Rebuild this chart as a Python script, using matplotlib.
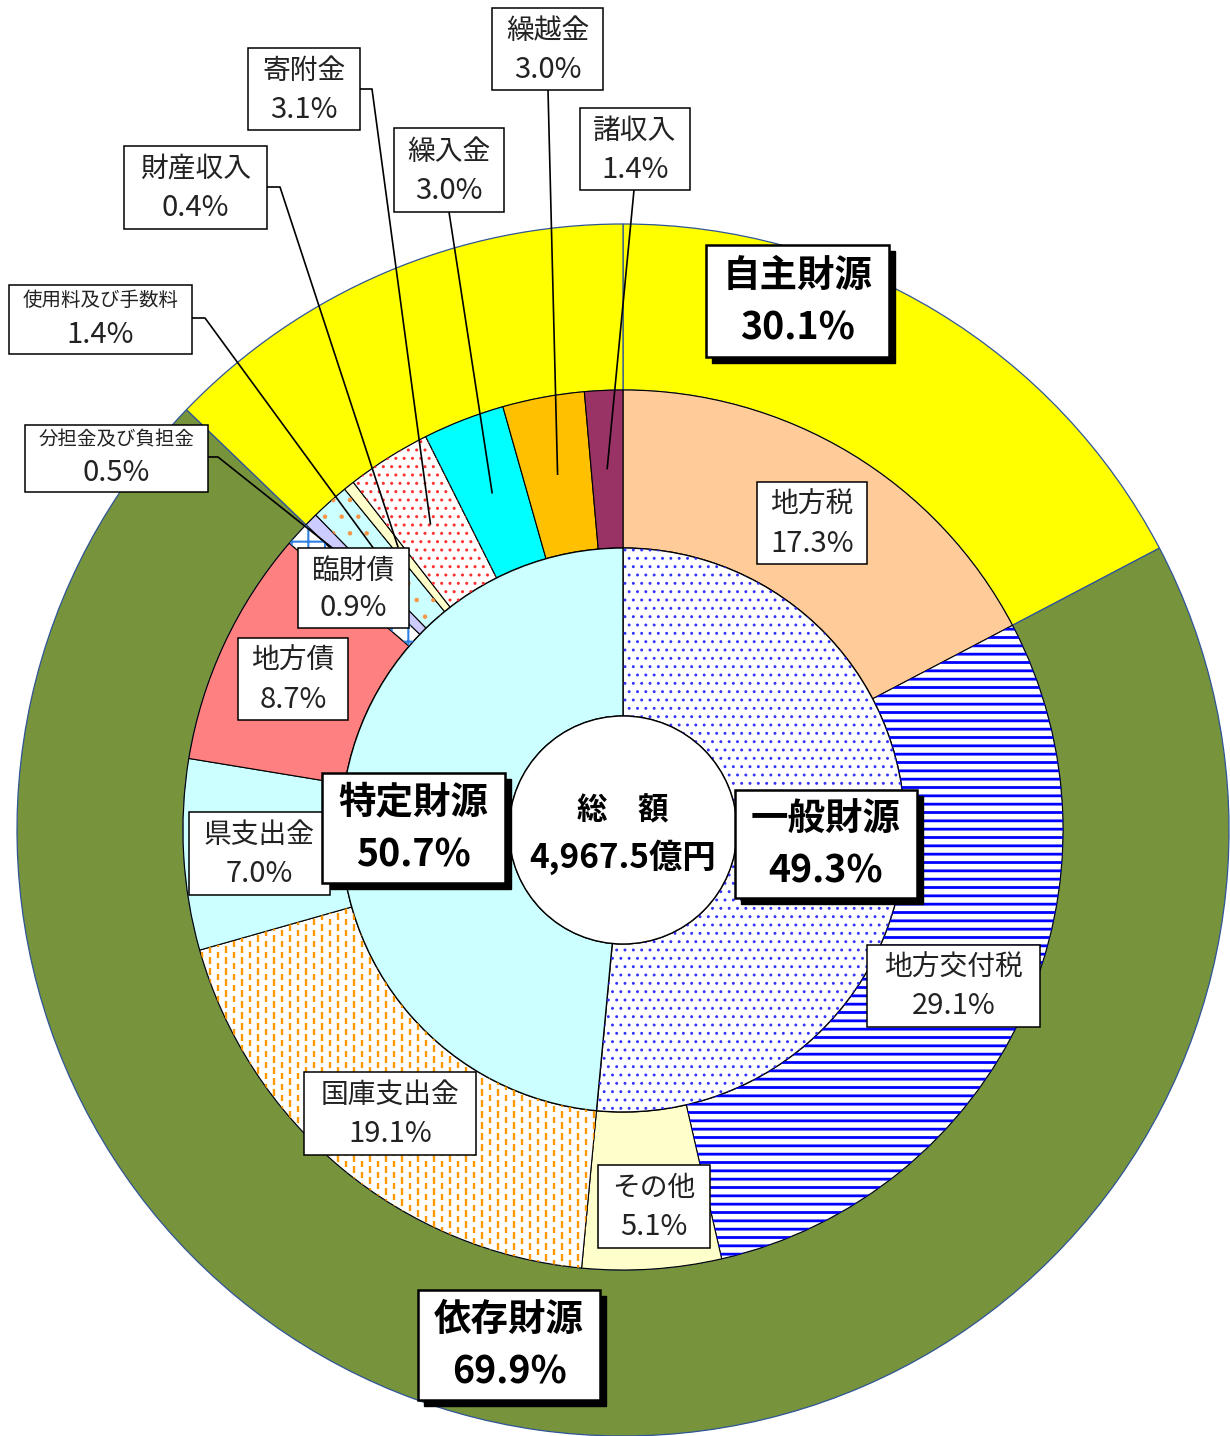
import numpy as np
import matplotlib.pyplot as plt
import matplotlib.patches as mpatches
from matplotlib.collections import LineCollection

plt.rcParams['font.family'] = ['Noto Sans CJK JP', 'DejaVu Sans']

# 歳入の内訳（上から時計回り）
items = ['地方税', '地方交付税', 'その他', '国庫支出金', '県支出金', '地方債', '臨財債',
         '分担金及び負担金', '使用料及び手数料', '財産収入', '寄附金', '繰入金', '繰越金', '諸収入']
shares = [17.3, 29.1, 5.1, 19.1, 7.0, 8.7, 0.9, 0.5, 1.4, 0.4, 3.1, 3.0, 3.0, 1.4]
n_general = 3  # 一般財源の項目（地方税〜その他）

outer_names = ['自主財源', '依存財源']
outer_shares = [30.1, 69.9]
inner_names = ['一般財源', '特定財源']
inner_shares = [49.3, 50.7]
total_label = '4,967.5億円'

# 色・模様
mid_colors = ['#FFCC99', 'white', '#FFFFCC', 'white', '#CCFFFF', '#FF8080', 'white',
              '#CCCCFF', '#CCFFFF', '#FFFFCC', 'white', '#00FFFF', '#FFC000', '#993366']
mid_hatch = {'地方交付税': ('--', '#0000FF', 2.0), '臨財債': ('+', '#2E7FE0', 1.5),
             '使用料及び手数料': ('.', '#F79646', 0.8), '寄附金': ('..', '#FF3030', 1.0)}

W, H = 1230, 1436
cx, cy = 623, 830
R_OUT, R_MID, R_IN, R_HOLE = 606, 440, 282, 114

fig = plt.figure(figsize=(W / 100, H / 100), dpi=100)
ax = fig.add_axes([0, 0, 1, 1])


def ring(sizes, r, w, colors, ec, lw):
    wedges, _ = ax.pie(sizes, radius=r, center=(cx, cy), startangle=270, counterclock=True,
                       colors=colors, wedgeprops=dict(width=w, edgecolor=ec, linewidth=lw))
    return wedges


def add_hatch(w, hatch, color, lw):
    with plt.rc_context({'hatch.linewidth': lw}):
        p = mpatches.Wedge(w.center, w.r, w.theta1, w.theta2, width=w.width,
                           facecolor='none', edgecolor=color, linewidth=0, hatch=hatch, zorder=1.5)
    ax.add_patch(p)


# 外側：自主財源（地方税の分と残り）、依存財源
own_after = shares[0]
outer_draw = [own_after, outer_shares[1], outer_shares[0] - own_after]
ring(outer_draw, R_OUT, R_OUT - R_MID, ['#FFFF00', '#77933C', '#FFFF00'], '#2F5597', 0.9)

# 中間：内訳
mid_w = ring(shares, R_MID, R_MID - R_IN, mid_colors, 'black', 0.8)
for name, (h, c, lw) in mid_hatch.items():
    add_hatch(mid_w[items.index(name)], h, c, lw)

# 国庫支出金の破線模様
segs = []
for k, x in enumerate(np.arange(2, W, 8.0)):
    off = 5.5 if k % 2 else 0
    for y in np.arange(-off, H, 11.0):
        segs.append([(x, y), (x, y + 6.5)])
lc = LineCollection(segs, colors='#FF9900', linewidths=1.7, zorder=1.6)
ax.add_collection(lc)
lc.set_clip_path(mid_w[items.index('国庫支出金')])

# 内側：一般財源・特定財源
inner_draw = [sum(shares[:n_general]), sum(shares[n_general:])]
in_w = ring(inner_draw, R_IN, R_IN - R_HOLE, ['white', '#CCFFFF'], 'black', 1.0)
add_hatch(in_w[0], '..', '#3333FF', 0.9)

ax.add_patch(mpatches.Circle((cx, cy), R_HOLE, facecolor='white', edgecolor='black',
                             linewidth=1.0, zorder=2))

# ラベル枠 (x0, y0, x1, y1)
boxes = {
    '地方税': (757, 482, 867, 564), '地方交付税': (867, 945, 1040, 1027),
    'その他': (598, 1165, 710, 1248), '国庫支出金': (304, 1072, 476, 1155),
    '県支出金': (189, 812, 330, 895), '地方債': (238, 638, 348, 720),
    '臨財債': (298, 548, 409, 628), '分担金及び負担金': (25, 425, 208, 492),
    '使用料及び手数料': (9, 285, 192, 354), '財産収入': (124, 146, 267, 229),
    '寄附金': (248, 48, 360, 130), '繰入金': (394, 128, 504, 212),
    '繰越金': (492, 8, 603, 90), '諸収入': (580, 108, 690, 190),
}
leaders = {
    '使用料及び手数料': [(192, 318), (205, 318)], '分担金及び負担金': [(208, 457), (218, 457)],
    '財産収入': [(267, 187), (280, 187)], '寄附金': [(360, 89), (372, 89)],
    '繰入金': [(449, 212)], '繰越金': [(548, 90)], '諸収入': [(634, 190)],
}

cum = np.cumsum(shares) - np.array(shares) / 2
total = sum(shares)
for name, pts in leaders.items():
    a = np.deg2rad(360 * cum[items.index(name)] / total)
    end = (cx + 361 * np.sin(a), cy - 361 * np.cos(a))
    xs, ys = zip(*(pts + [end]))
    ax.plot(xs, ys, color='black', linewidth=1.2, zorder=3, solid_capstyle='butt')

for name, v in zip(items, shares):
    x0, y0, x1, y1 = boxes[name]
    ax.add_patch(mpatches.Rectangle((x0, y0), x1 - x0, y1 - y0, facecolor='white',
                                    edgecolor='black', linewidth=1.1, zorder=4))
    xm, hh = (x0 + x1) / 2, y1 - y0
    small = len(name) > 6
    ax.text(xm, y0 + hh * (0.22 if small else 0.28), name, ha='center', va='center',
            fontsize=14 if small else 20, color='#222222', zorder=5)
    ax.text(xm, y0 + hh * (0.72 if small else 0.75), f'{v:.1f}%', ha='center', va='center',
            fontsize=21, color='#222222', zorder=5)

# 大きいラベル（影付き）
big_boxes = {'自主財源': (706, 245, 889, 357), '依存財源': (418, 1290, 600, 1400),
             '一般財源': (735, 790, 917, 898), '特定財源': (322, 773, 505, 883)}
big_vals = dict(zip(outer_names + inner_names, outer_shares + inner_shares))
for name, (x0, y0, x1, y1) in big_boxes.items():
    ax.add_patch(mpatches.Rectangle((x0 + 6, y0 + 6), x1 - x0, y1 - y0, facecolor='black',
                                    edgecolor='black', linewidth=1, zorder=3.9))
    ax.add_patch(mpatches.Rectangle((x0, y0), x1 - x0, y1 - y0, facecolor='white',
                                    edgecolor='black', linewidth=1.8, zorder=4))
    xm, ym = (x0 + x1) / 2, (y0 + y1) / 2
    ax.text(xm, ym - 26, name, ha='center', va='center', fontsize=27,
            fontweight='bold', zorder=5)
    ax.text(xm, ym + 27, f'{big_vals[name]:.1f}%', ha='center', va='center', fontsize=27,
            fontweight='bold', zorder=5)

ax.text(cx, cy - 20, '総　額', ha='center', va='center', fontsize=22, fontweight='bold', zorder=5)
ax.text(cx, cy + 27, total_label, ha='center', va='center', fontsize=24, fontweight='bold', zorder=5)

ax.set_xlim(0, W)
ax.set_ylim(H, 0)
ax.set_aspect('equal')
ax.axis('off')

fig.savefig('out.png', dpi=100)
